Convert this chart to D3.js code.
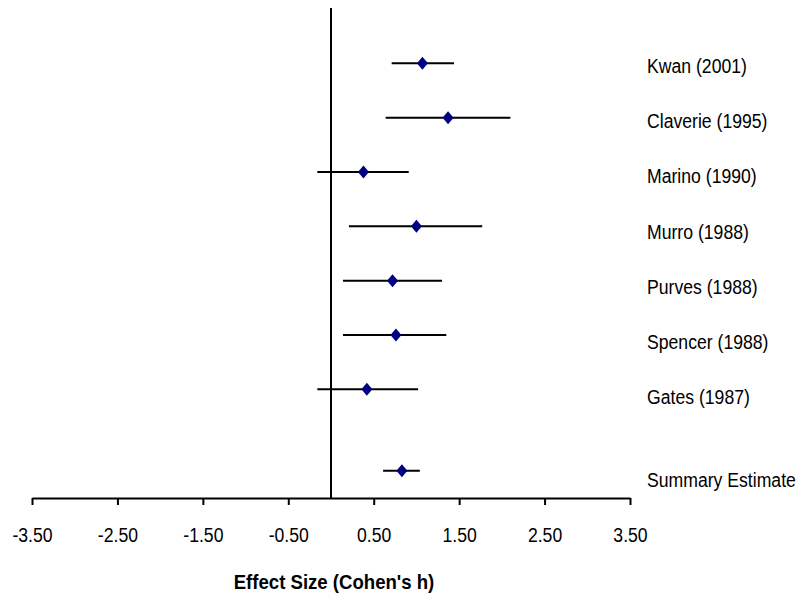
<!DOCTYPE html>
<html><head><meta charset="utf-8">
<script src="https://cdn.jsdelivr.net/npm/d3@7"></script>
<style>
html,body{margin:0;padding:0;background:#fff;}
text{font-family:"Liberation Sans Narrow","Arial Narrow","Liberation Sans",Arial,sans-serif;}
</style></head>
<body>
<svg id="chart" width="802" height="597"></svg>
<script>
const studies = ["Kwan (2001)","Claverie (1995)","Marino (1990)","Murro (1988)","Purves (1988)","Spencer (1988)","Gates (1987)","Summary Estimate"];
const rowPos = [8,7,6,5,4,3,2,0.5];
const effect = [1.07,1.37,0.38,1.00,0.72,0.76,0.42,0.83];
const lower  = [0.71,0.64,-0.16,0.21,0.14,0.14,-0.16,0.61];
const upper  = [1.44,2.10,0.91,1.77,1.30,1.35,1.02,1.04];
const xTicks = [-3.5,-2.5,-1.5,-0.5,0.5,1.5,2.5,3.5];
const xTitle = "Effect Size (Cohen's h)";

const SX = 0.84; // horizontal condensing to mimic a narrow face
const svg = d3.select("#chart");
const x = d3.scaleLinear().domain([-3.5,3.5]).range([32,630]);
const y = d3.scaleLinear().domain([0,9]).range([498,9]);
const yLab = d3.scaleLinear().domain([0,9]).range([514.6,17.8]);

const data = studies.map((s,i)=>({s,pos:rowPos[i],e:effect[i],lo:lower[i],hi:upper[i]}));

// x axis
const xAxis = d3.axisBottom(x).tickValues(xTicks).tickFormat(d=>d.toFixed(2)).tickSizeInner(7).tickSizeOuter(0);
const gx = svg.append("g").attr("transform",`translate(0,${y(0)})`).call(xAxis);
gx.select(".domain").attr("stroke","#000").attr("stroke-width",2);
gx.selectAll(".tick line").attr("stroke","#000").attr("stroke-width",2);
gx.selectAll(".tick text").attr("fill","#000").style("font-size","21px")
  .attr("y",0).attr("dy",0).attr("transform",`translate(0,43.5) scale(${SX},1)`);

// zero line
svg.append("line").attr("x1",x(0)).attr("x2",x(0)).attr("y1",y(9)-1).attr("y2",y(0))
  .attr("stroke","#000").attr("stroke-width",2);

// CI lines
svg.selectAll("line.ci").data(data).enter().append("line").attr("class","ci")
  .attr("x1",d=>x(d.lo)).attr("x2",d=>x(d.hi)).attr("y1",d=>y(d.pos)).attr("y2",d=>y(d.pos))
  .attr("stroke","#000").attr("stroke-width",2);

// diamonds
svg.selectAll("path.pt").data(data).enter().append("path").attr("class","pt")
  .attr("d","M0,-6.5L5.5,0L0,6.5L-5.5,0Z")
  .attr("transform",d=>`translate(${x(d.e)},${y(d.pos)})`)
  .attr("fill","#000080");

// labels
svg.selectAll("text.lab").data(data).enter().append("text").attr("class","lab")
  .attr("transform",d=>`translate(647,${yLab(d.pos)}) scale(${SX},1)`).text(d=>d.s)
  .style("font-size","21px").attr("fill","#000");

// axis title
svg.append("text").attr("transform",`translate(334,588.5) scale(0.93,1)`).attr("text-anchor","middle")
  .style("font-size","20px").style("font-weight","bold").text(xTitle);
</script>
</body></html>
